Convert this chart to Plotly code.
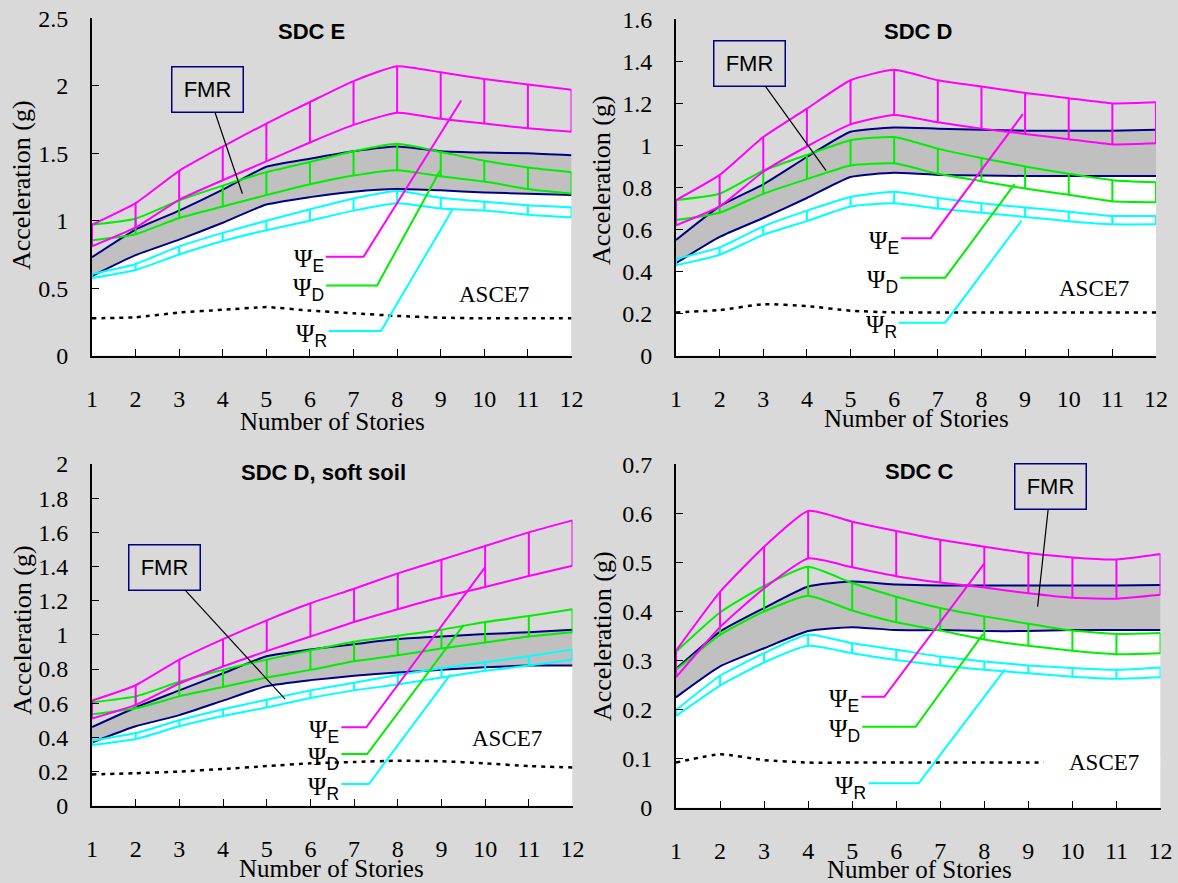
import plotly.graph_objects as go

W, H = 1178, 883
BG = "#D9D9D9"
BAND = "#C0C0C0"
MAG = "#FF00FF"
GRN = "#00EE00"
CYN = "#00FFFF"
NAVY = "#000080"
SERIF = "Liberation Serif"
SANS = "Liberation Sans"

stories = list(range(1, 13))

# ---------------- SDC E ----------------
sdcE_psiE_upper = [0.97, 1.13, 1.37, 1.55, 1.72, 1.88, 2.035, 2.145, 2.10, 2.05, 2.01, 1.97]
sdcE_psiE_lower = [0.81, 0.95, 1.155, 1.30, 1.44, 1.58, 1.71, 1.80, 1.755, 1.72, 1.685, 1.66]
sdcE_psiD_upper = [0.97, 1.015, 1.15, 1.26, 1.36, 1.435, 1.515, 1.57, 1.51, 1.445, 1.395, 1.36]
sdcE_psiD_lower = [0.855, 0.90, 1.02, 1.105, 1.19, 1.27, 1.335, 1.375, 1.33, 1.29, 1.235, 1.20]
sdcE_fmr_upper = [0.73, 0.935, 1.075, 1.23, 1.40, 1.46, 1.515, 1.55, 1.515, 1.505, 1.50, 1.485]
sdcE_fmr_lower = [0.59, 0.745, 0.86, 0.985, 1.12, 1.175, 1.215, 1.235, 1.225, 1.21, 1.20, 1.19]
sdcE_psiR_upper = [0.605, 0.68, 0.81, 0.91, 1.00, 1.085, 1.165, 1.22, 1.17, 1.14, 1.115, 1.10]
sdcE_psiR_lower = [0.575, 0.635, 0.75, 0.85, 0.93, 1.00, 1.075, 1.13, 1.09, 1.075, 1.045, 1.025]
sdcE_asce7 = [0.277, 0.285, 0.32, 0.34, 0.36, 0.334, 0.314, 0.295, 0.282, 0.277, 0.277, 0.277]

# ---------------- SDC D ----------------
sdcD_psiE_upper = [0.74, 0.86, 1.04, 1.175, 1.31, 1.36, 1.31, 1.28, 1.25, 1.225, 1.20, 1.205]
sdcD_psiE_lower = [0.62, 0.71, 0.875, 0.995, 1.10, 1.145, 1.11, 1.08, 1.055, 1.03, 1.005, 1.01]
sdcD_psiD_upper = [0.74, 0.77, 0.88, 0.955, 1.025, 1.04, 0.985, 0.94, 0.90, 0.865, 0.835, 0.825]
sdcD_psiD_lower = [0.645, 0.68, 0.77, 0.84, 0.905, 0.915, 0.865, 0.83, 0.795, 0.765, 0.735, 0.73]
sdcD_fmr_upper = [0.55, 0.71, 0.815, 0.945, 1.065, 1.085, 1.08, 1.075, 1.07, 1.07, 1.07, 1.075]
sdcD_fmr_lower = [0.44, 0.565, 0.655, 0.75, 0.85, 0.87, 0.86, 0.857, 0.855, 0.855, 0.855, 0.855]
sdcD_psiR_upper = [0.46, 0.515, 0.615, 0.69, 0.755, 0.78, 0.75, 0.725, 0.705, 0.685, 0.665, 0.665]
sdcD_psiR_lower = [0.43, 0.48, 0.575, 0.64, 0.71, 0.725, 0.70, 0.68, 0.66, 0.64, 0.625, 0.625]
sdcD_asce7 = [0.206, 0.217, 0.245, 0.236, 0.214, 0.206, 0.206, 0.206, 0.206, 0.206, 0.206, 0.206]

# ---------------- SDC D, soft soil ----------------
soft_psiE_upper = [0.615, 0.705, 0.855, 0.975, 1.085, 1.185, 1.27, 1.36, 1.44, 1.52, 1.60, 1.67]
soft_psiE_lower = [0.51, 0.59, 0.715, 0.815, 0.905, 0.99, 1.075, 1.15, 1.22, 1.28, 1.345, 1.405]
soft_psiD_upper = [0.605, 0.64, 0.725, 0.795, 0.855, 0.91, 0.96, 0.995, 1.03, 1.075, 1.11, 1.15]
soft_psiD_lower = [0.535, 0.57, 0.64, 0.695, 0.75, 0.795, 0.845, 0.88, 0.92, 0.955, 0.99, 1.015]
soft_fmr_upper = [0.46, 0.575, 0.675, 0.775, 0.875, 0.915, 0.945, 0.975, 0.99, 1.005, 1.015, 1.03]
soft_fmr_lower = [0.37, 0.465, 0.53, 0.615, 0.70, 0.735, 0.76, 0.78, 0.795, 0.81, 0.82, 0.82]
soft_psiR_upper = [0.38, 0.425, 0.50, 0.565, 0.62, 0.675, 0.72, 0.765, 0.805, 0.84, 0.875, 0.915]
soft_psiR_lower = [0.355, 0.39, 0.465, 0.525, 0.575, 0.63, 0.675, 0.71, 0.75, 0.79, 0.82, 0.855]
soft_asce7 = [0.183, 0.19, 0.20, 0.215, 0.232, 0.248, 0.256, 0.263, 0.26, 0.248, 0.232, 0.224]

# ---------------- SDC C ----------------
sdcC_psiE_upper = [0.32, 0.44, 0.532, 0.605, 0.583, 0.564, 0.546, 0.532, 0.519, 0.51, 0.506, 0.517]
sdcC_psiE_lower = [0.266, 0.368, 0.447, 0.508, 0.49, 0.472, 0.459, 0.449, 0.437, 0.428, 0.426, 0.434]
sdcC_psiD_upper = [0.318, 0.398, 0.452, 0.491, 0.458, 0.43, 0.407, 0.39, 0.375, 0.361, 0.354, 0.356]
sdcC_psiD_lower = [0.281, 0.352, 0.40, 0.432, 0.402, 0.378, 0.361, 0.343, 0.33, 0.32, 0.313, 0.315]
sdcC_fmr_upper = [0.283, 0.359, 0.407, 0.451, 0.461, 0.455, 0.453, 0.453, 0.453, 0.453, 0.453, 0.454]
sdcC_fmr_lower = [0.225, 0.288, 0.325, 0.36, 0.368, 0.362, 0.362, 0.36, 0.36, 0.362, 0.362, 0.362]
sdcC_psiR_upper = [0.199, 0.269, 0.315, 0.353, 0.335, 0.322, 0.308, 0.298, 0.29, 0.285, 0.281, 0.286]
sdcC_psiR_lower = [0.187, 0.249, 0.296, 0.33, 0.315, 0.301, 0.29, 0.281, 0.274, 0.267, 0.263, 0.266]
sdcC_asce7 = [0.092, 0.109, 0.097, 0.092, 0.092, 0.092, 0.092, 0.092, 0.092, 0.092, 0.092, 0.092]

titles = ["SDC E", "SDC D", "SDC D, soft soil", "SDC C"]
y_max = [2.5, 1.6, 2.0, 0.7]
y_step = [0.5, 0.2, 0.2, 0.1]

data = [
    dict(E=(sdcE_psiE_upper, sdcE_psiE_lower), D=(sdcE_psiD_upper, sdcE_psiD_lower),
         F=(sdcE_fmr_upper, sdcE_fmr_lower), R=(sdcE_psiR_upper, sdcE_psiR_lower), A=sdcE_asce7),
    dict(E=(sdcD_psiE_upper, sdcD_psiE_lower), D=(sdcD_psiD_upper, sdcD_psiD_lower),
         F=(sdcD_fmr_upper, sdcD_fmr_lower), R=(sdcD_psiR_upper, sdcD_psiR_lower), A=sdcD_asce7),
    dict(E=(soft_psiE_upper, soft_psiE_lower), D=(soft_psiD_upper, soft_psiD_lower),
         F=(soft_fmr_upper, soft_fmr_lower), R=(soft_psiR_upper, soft_psiR_lower), A=soft_asce7),
    dict(E=(sdcC_psiE_upper, sdcC_psiE_lower), D=(sdcC_psiD_upper, sdcC_psiD_lower),
         F=(sdcC_fmr_upper, sdcC_fmr_lower), R=(sdcC_psiR_upper, sdcC_psiR_lower), A=sdcC_asce7),
]

# ---------------- layout geometry (pixels) ----------------
plot_px = [(92, 18.3, 571.5, 355.7), (676, 19.3, 1156, 355.7),
           (92, 464, 572.5, 805.7), (676, 464.3, 1160.5, 807.7)]
title_px = [(311, 32), (918, 32), (323, 472), (919, 471)]
xtitle_px = [(332, 421), (916, 418), (331, 868), (919, 869)]
ytitle_px = [(22, 185), (602, 180), (22, 630), (602, 636)]

# leader lines for the Psi labels (data coordinates of each panel)
leaders = [
    {"E": [(6.36, 0.733), (7.23, 0.733), (9.47, 1.891)],
     "D": [(6.37, 0.52), (7.54, 0.52), (8.99, 1.374)],
     "R": [(6.43, 0.183), (7.63, 0.183), (9.28, 1.089)]},
    {"E": [(6.16, 0.559), (6.84, 0.559), (8.95, 1.149)],
     "D": [(6.14, 0.371), (7.17, 0.371), (8.76, 0.816)],
     "R": [(6.10, 0.157), (7.17, 0.157), (8.92, 0.642)]},
    {"E": [(6.71, 0.459), (7.28, 0.459), (10.01, 1.399)],
     "D": [(6.71, 0.302), (7.30, 0.302), (9.51, 1.058)],
     "R": [(6.71, 0.127), (7.34, 0.127), (9.21, 0.769)]},
    {"E": [(5.21, 0.226), (5.73, 0.226), (8.0, 0.498)],
     "D": [(5.23, 0.165), (6.44, 0.165), (7.97, 0.354)],
     "R": [(5.37, 0.0496), (6.51, 0.0496), (8.47, 0.282)]},
]
asce_pos = [(10.22, 0.455), (10.57, 0.32), (10.51, 0.394), (10.72, 0.092)]
asce_cover = [None, None, None, (9.34, 12, 0.082, 0.102)]
fmr_pos = [(4.45, 1.20, -35, -104), (4.44, 0.88, -77, -107), (5.42, 0.624, -121, -132), (9.21, 0.41, 13, -120)]

colors = {"E": MAG, "D": GRN, "R": CYN}

fig = go.Figure()
annotations = []
shapes = []


def px_to_paper(x, y):
    return x / W, 1 - y / H


for i in range(4):
    n = i + 1
    xa = "x" if n == 1 else f"x{n}"
    ya = "y" if n == 1 else f"y{n}"
    d = data[i]
    spline = dict(shape="spline", smoothing=0.5)

    # FMR band: white below lower line, gray band between
    fig.add_trace(go.Scatter(x=stories, y=d["F"][1], mode="lines", xaxis=xa, yaxis=ya,
                             fill="tozeroy", fillcolor="white",
                             line=dict(color=NAVY, width=2, **spline), showlegend=False, hoverinfo="skip"))
    fig.add_trace(go.Scatter(x=stories, y=d["F"][0], mode="lines", xaxis=xa, yaxis=ya,
                             fill="tonexty", fillcolor=BAND,
                             line=dict(color=NAVY, width=2, **spline), showlegend=False, hoverinfo="skip"))
    # ASCE7
    fig.add_trace(go.Scatter(x=stories, y=d["A"], mode="lines", xaxis=xa, yaxis=ya,
                             line=dict(color="black", width=2.5, dash="4px,5px", **spline),
                             showlegend=False, hoverinfo="skip"))
    # Psi bands
    for key in ["R", "D", "E"]:
        up, lo = d[key]
        c = colors[key]
        for arr in (up, lo):
            fig.add_trace(go.Scatter(x=stories, y=arr, mode="lines", xaxis=xa, yaxis=ya,
                                     line=dict(color=c, width=2, **spline), showlegend=False, hoverinfo="skip"))
        vx, vy = [], []
        for s, u, l in zip(stories, up, lo):
            vx += [s, s, None]
            vy += [l, u, None]
        fig.add_trace(go.Scatter(x=vx, y=vy, mode="lines", xaxis=xa, yaxis=ya,
                                 line=dict(color=c, width=2), showlegend=False, hoverinfo="skip"))

    # axes
    x0, y0, x1, y1 = plot_px[i]
    dx = [x0 / W, x1 / W]
    dy = [1 - y1 / H, 1 - y0 / H]
    xname = "xaxis" if n == 1 else f"xaxis{n}"
    yname = "yaxis" if n == 1 else f"yaxis{n}"
    fig.layout[xname] = dict(domain=dx, anchor=ya, range=[1, 12], tickmode="array", tickvals=stories,
                             showline=True, linecolor="black", linewidth=2, ticks="inside", ticklen=7,
                             tickwidth=1, tickcolor="black", showgrid=False, zeroline=False,
                             automargin=False,
                             tickfont=dict(family=SERIF, size=24, color="black"), ticklabelstandoff=20)
    fig.layout[yname] = dict(domain=dy, anchor=xa, range=[0, y_max[i]], tickmode="linear", tick0=0,
                             dtick=y_step[i], showline=True, linecolor="black", linewidth=2,
                             ticks="inside", ticklen=7, tickwidth=1, tickcolor="black",
                             showgrid=False, zeroline=False, automargin=False,
                             tickfont=dict(family=SERIF, size=24, color="black"), ticklabelstandoff=17)

    # title
    tx, ty = px_to_paper(*title_px[i])
    annotations.append(dict(x=tx, y=ty, xref="paper", yref="paper", text=f"<b>{titles[i]}</b>",
                            showarrow=False, font=dict(family=SANS, size=22, color="black"),
                            xanchor="center", yanchor="middle"))
    # axis titles
    tx, ty = px_to_paper(*xtitle_px[i])
    annotations.append(dict(x=tx, y=ty, xref="paper", yref="paper", text="Number of Stories",
                            showarrow=False, font=dict(family=SERIF, size=25, color="black"),
                            xanchor="center", yanchor="middle"))
    tx, ty = px_to_paper(*ytitle_px[i])
    annotations.append(dict(x=tx, y=ty, xref="paper", yref="paper", text="Acceleration (g)",
                            showarrow=False, textangle=-90, font=dict(family=SERIF, size=26, color="black"),
                            xanchor="center", yanchor="middle"))

    # Psi leader lines and labels
    for key in ["E", "D", "R"]:
        pts = leaders[i][key]
        path = "M " + " L ".join(f"{px},{py}" for px, py in pts)
        shapes.append(dict(type="path", path=path, xref=xa, yref=ya,
                           line=dict(color=colors[key], width=2)))
        annotations.append(dict(x=pts[0][0], y=pts[0][1], xref=xa, yref=ya,
                                text=f"Ψ<sub><span style='font-family:{SANS}'>{key}</span></sub>",
                                showarrow=False, xanchor="right", yanchor="middle", yshift=-4,
                                font=dict(family=SERIF, size=25, color="black")))

    # ASCE7 label (white cover where the text box sits on the line)
    if asce_cover[i] is not None:
        cx0, cx1, cy0, cy1 = asce_cover[i]
        shapes.append(dict(type="rect", xref=xa, yref=ya, x0=cx0, x1=cx1, y0=cy0, y1=cy1,
                           fillcolor="white", line=dict(width=0), layer="above"))
    ax_, ay_ = asce_pos[i]
    annotations.append(dict(x=ax_, y=ay_, xref=xa, yref=ya, text="ASCE7", showarrow=False,
                            font=dict(family=SERIF, size=23, color="black"),
                            xanchor="center", yanchor="middle"))

    # FMR callout
    fx, fy, fax, fay = fmr_pos[i]
    annotations.append(dict(x=fx, y=fy, xref=xa, yref=ya, text="FMR", showarrow=True,
                            ax=fax, ay=fay, arrowhead=0, arrowwidth=1.2, arrowcolor="black",
                            font=dict(family=SANS, size=22, color="black"),
                            bgcolor=BG, bordercolor=NAVY, borderwidth=1.5, borderpad=0,
                            width=70, height=44))

fig.update_layout(width=W, height=H, margin=dict(l=0, r=0, t=0, b=0),
                  paper_bgcolor=BG, plot_bgcolor=BG, showlegend=False,
                  annotations=annotations, shapes=shapes)

fig.write_html("out.html")
